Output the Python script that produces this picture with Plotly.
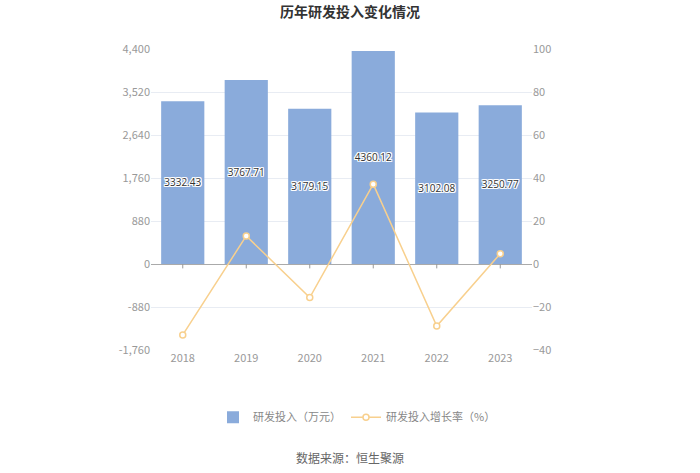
import plotly.graph_objects as go

years = ["2018", "2019", "2020", "2021", "2022", "2023"]
rd_invest = [3332.43, 3767.71, 3179.15, 4360.12, 3102.08, 3250.77]
growth_rate = [-33.0, 13.06, -15.62, 37.15, -28.85, 4.79]
left_ticks = [-1760, -880, 0, 880, 1760, 2640, 3520, 4400]
right_ticks = [-40, -20, 0, 20, 40, 60, 80, 100]

FONT = "Noto Sans CJK SC, Open Sans, sans-serif"
BAR_COLOR = "#8aabdb"
LINE_COLOR = "#f8d08e"

fig = go.Figure()
fig.add_trace(go.Bar(
    x=years, y=rd_invest, name="研发投入（万元）",
    marker=dict(color=BAR_COLOR, line=dict(width=0)),
    text=[f"{v:.2f}" for v in rd_invest],
    textposition="inside", insidetextanchor="middle",
    textfont=dict(color="#333333", size=12, family="Open Sans, sans-serif",
                  shadow="1px 1px 0 #fff, -1px -1px 0 #fff, 1px -1px 0 #fff, -1px 1px 0 #fff, 0 1px 0 #fff, 0 -1px 0 #fff, 1px 0 0 #fff, -1px 0 0 #fff"),
    textangle=0,
    yaxis="y",
))
fig.add_trace(go.Scatter(
    x=years, y=growth_rate, name="研发投入增长率（%）",
    mode="lines+markers",
    line=dict(color=LINE_COLOR, width=1.5),
    marker=dict(symbol="circle", size=6, color="#ffffff", line=dict(color=LINE_COLOR, width=1.5)),
    yaxis="y2",
))

# small ticks on the zero baseline at each category (category index positions)
for i, _ in enumerate(years):
    fig.add_shape(type="line", xref="x", yref="y", x0=i, x1=i, y0=0, y1=-90,
                  line=dict(color="#999999", width=1), layer="above")

fig.update_layout(
    width=700, height=473,
    margin=dict(l=151, r=168, t=49, b=123),
    paper_bgcolor="#ffffff", plot_bgcolor="#ffffff",
    font=dict(family=FONT, color="#999999", size=11),
    title=dict(text="<b>历年研发投入变化情况</b>", x=0.5, xref="container", xanchor="center",
               y=0.975, yref="container", yanchor="middle",
               font=dict(size=14, color="#333333", family=FONT)),
    bargap=0.32,
    showlegend=True,
    legend=dict(orientation="h", x=0.51, xref="container", xanchor="center",
                y=0.118, yref="container", yanchor="middle",
                font=dict(size=11, color="#888888", family=FONT),
                traceorder="normal"),
    xaxis=dict(type="category", categoryorder="array", categoryarray=years,
               range=[-0.5, len(years) - 0.5],
               showgrid=False, showline=False, ticks="",
               tickfont=dict(size=11, color="#999999"), zeroline=False),
    yaxis=dict(range=[-1760, 4400], tickvals=left_ticks,
               ticktext=[f"{v:,}" for v in left_ticks],
               showgrid=True, gridcolor="#e8ecf3", gridwidth=1,
               zeroline=True, zerolinecolor="#aaaaaa", zerolinewidth=1,
               showline=False, ticks="", tickfont=dict(size=11, color="#999999")),
    yaxis2=dict(range=[-40, 100], tickvals=right_ticks, overlaying="y", side="right",
                showgrid=False, zeroline=False, showline=False, ticks="",
                tickfont=dict(size=11, color="#999999")),
    annotations=[dict(text="数据来源：恒生聚源",
                      x=(350 - 151) / (700 - 151 - 168), xref="paper",
                      y=(473 - 123 - 457) / (473 - 49 - 123), yref="paper",
                      yanchor="middle", showarrow=False,
                      font=dict(size=12, color="#666666", family=FONT))],
)

fig.write_html("out.html")
